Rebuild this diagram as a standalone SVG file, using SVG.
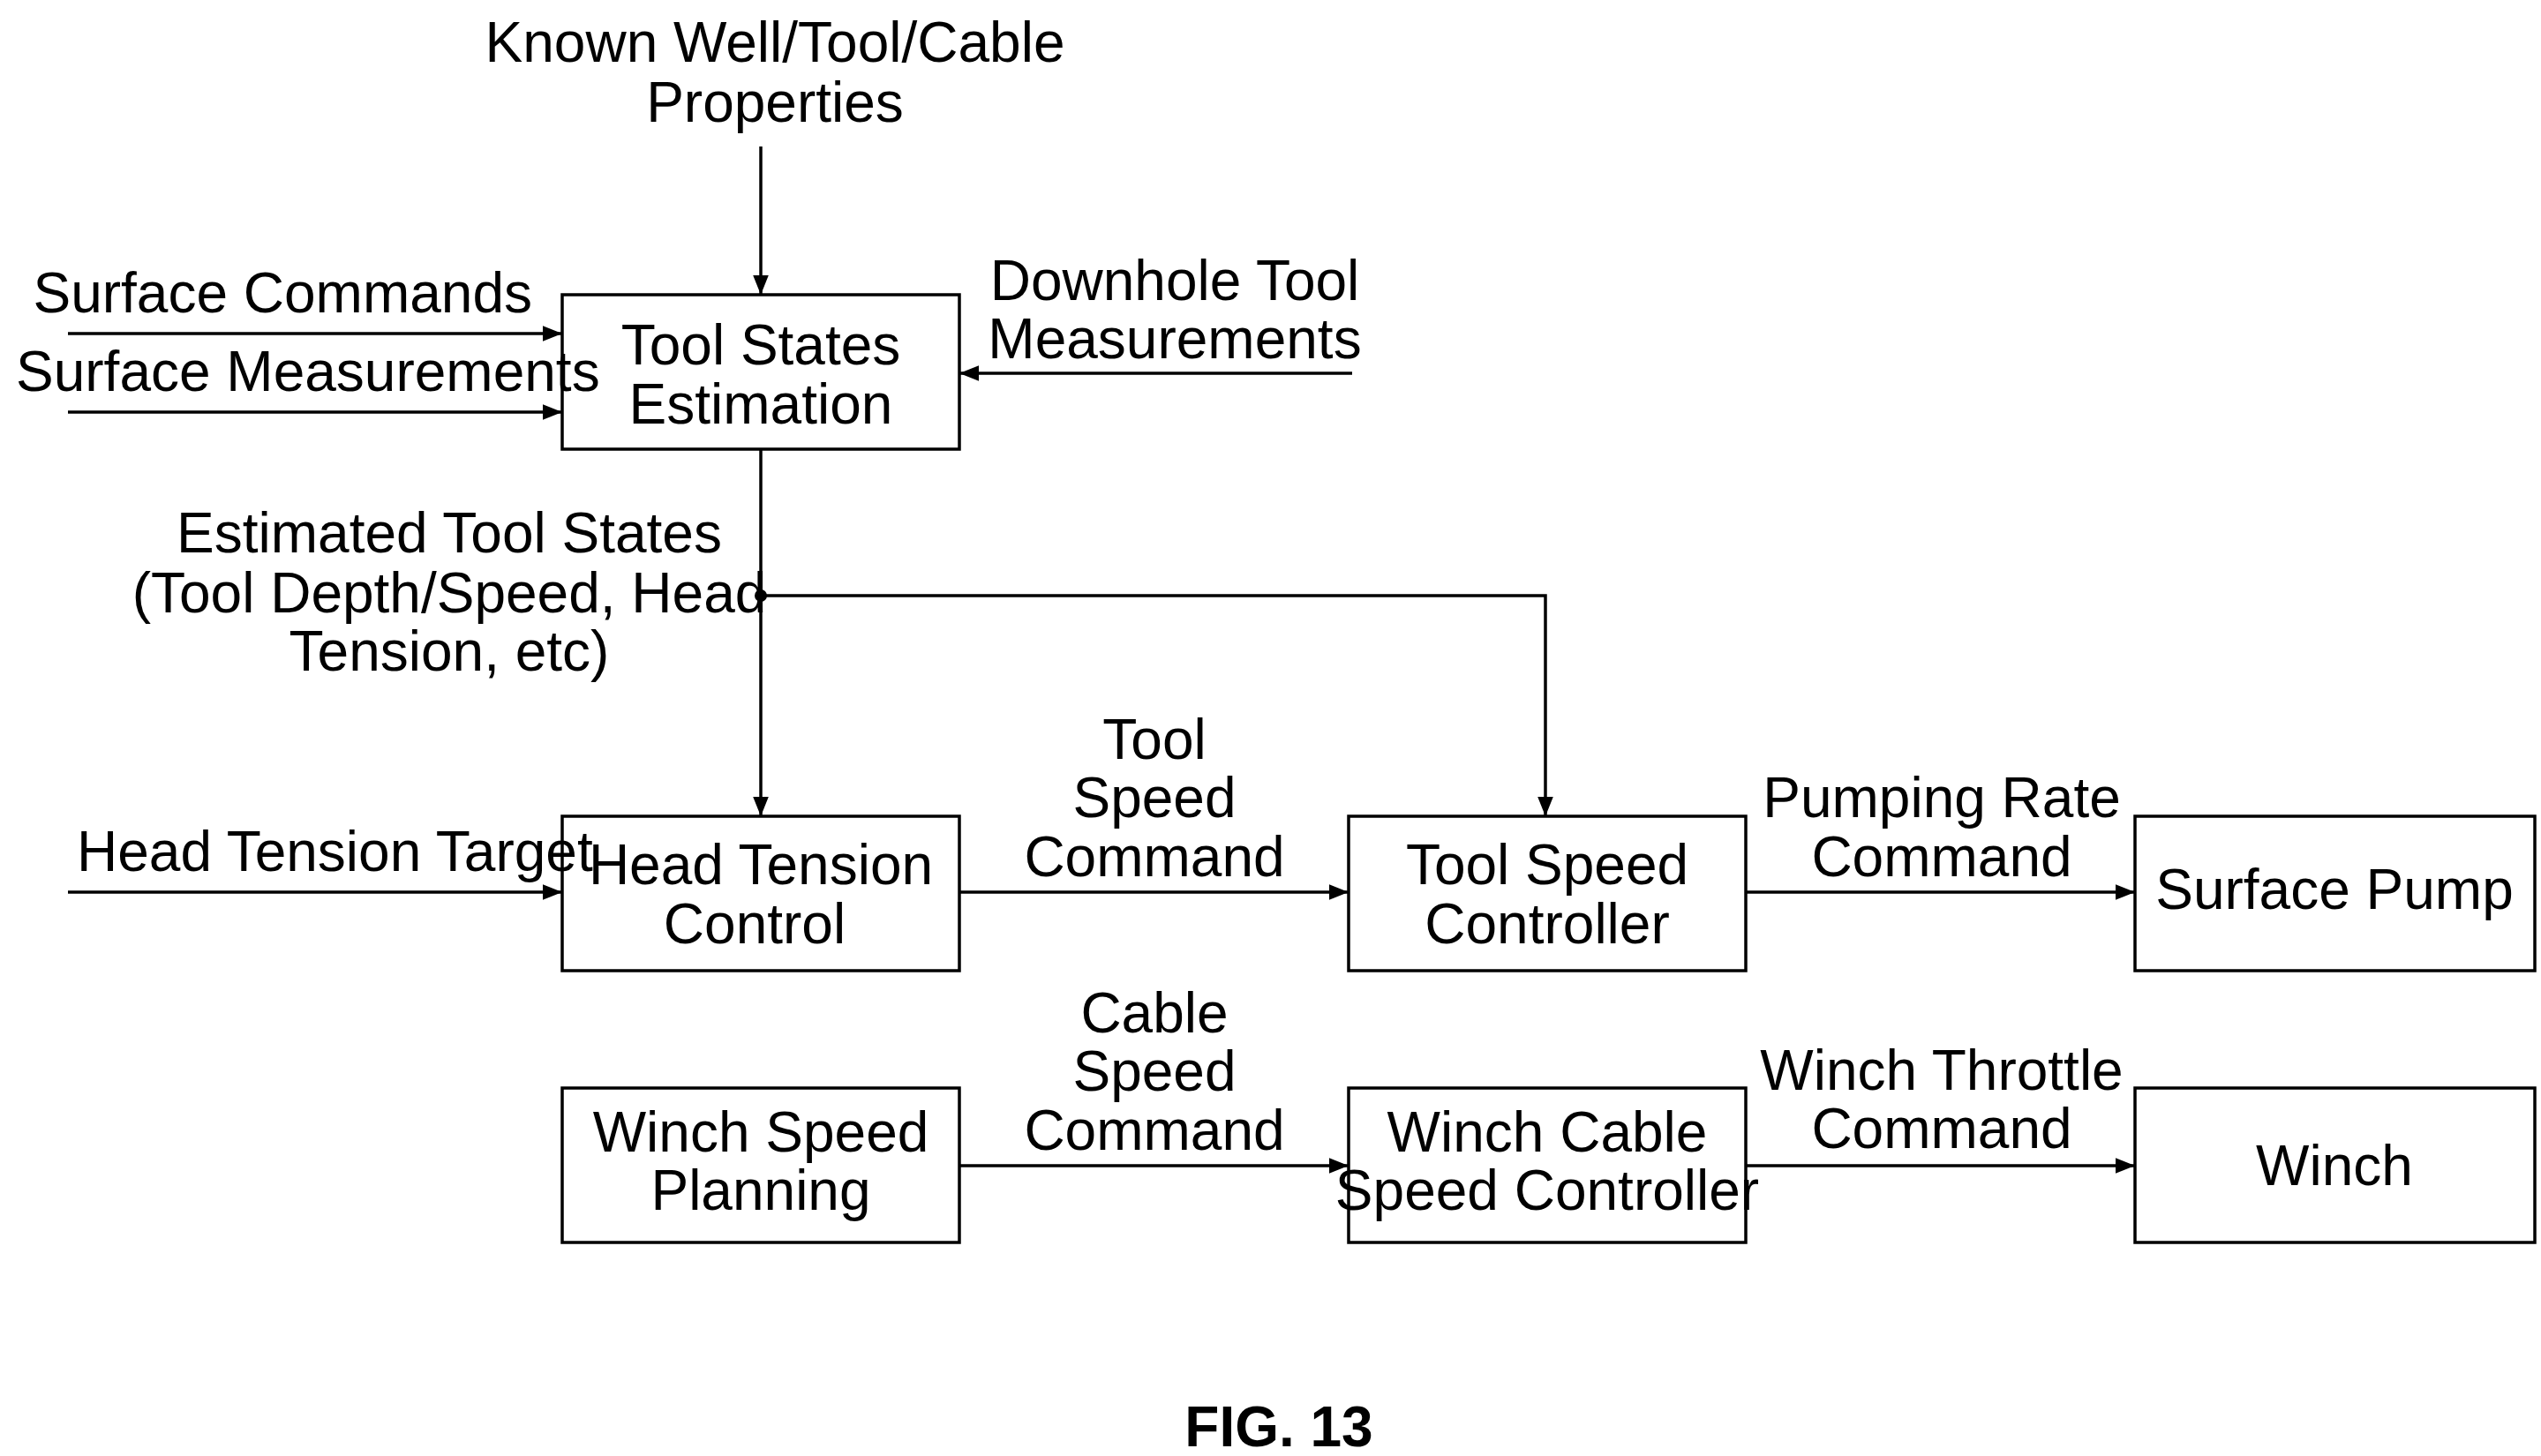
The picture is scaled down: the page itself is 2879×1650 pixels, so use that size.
<svg xmlns="http://www.w3.org/2000/svg" width="2879" height="1650" viewBox="0 0 2879 1650">
<defs>
<marker id="ah" viewBox="0 0 10 10" refX="10" refY="5" markerWidth="22" markerHeight="22" markerUnits="userSpaceOnUse" orient="auto"><path d="M0,1 L10,5 L0,9 Z" fill="#000"/></marker>
<style>
text{font-family:"Liberation Sans Narrow","Liberation Sans",Arial,sans-serif;font-size:64px;fill:#000}
.c{text-anchor:middle}
.b{fill:#fff;stroke:#000;stroke-width:3.5}
.l{fill:none;stroke:#000;stroke-width:3.5;marker-end:url(#ah)}
</style>
</defs>
<rect width="2879" height="1650" fill="#fff"/>
<g id="n1"><rect class="b" x="637" y="334" width="450" height="175"/><text class="c" x="862" y="413">Tool States</text><text class="c" x="862" y="480">Estimation</text></g>
<g id="n2"><rect class="b" x="637" y="925" width="450" height="175"/><text class="c" x="862" y="1002">Head Tension</text><text class="c" x="855" y="1069">Control</text></g>
<g id="n3"><rect class="b" x="1528" y="925" width="450" height="175"/><text class="c" x="1753" y="1002">Tool Speed</text><text class="c" x="1753" y="1069">Controller</text></g>
<g id="n4"><rect class="b" x="2419" y="925" width="453" height="175"/><text class="c" x="2645" y="1030">Surface Pump</text></g>
<g id="n5"><rect class="b" x="637" y="1233" width="450" height="175"/><text class="c" x="862" y="1305">Winch Speed</text><text class="c" x="862" y="1371">Planning</text></g>
<g id="n6"><rect class="b" x="1528" y="1233" width="450" height="175"/><text class="c" x="1753" y="1305">Winch Cable</text><text class="c" x="1753" y="1371">Speed Controller</text></g>
<g id="n7"><rect class="b" x="2419" y="1233" width="453" height="175"/><text class="c" x="2645" y="1343">Winch</text></g>
<g id="connectors">
<path class="l" d="M862,166 V334"/>
<path class="l" d="M77,378 H637"/>
<path class="l" d="M77,467 H637"/>
<path class="l" d="M1532,423 H1087"/>
<path class="l" d="M862,509 V925"/>
<path class="l" d="M862,675 H1751 V925"/>
<circle cx="862" cy="675" r="7" fill="#000"/>
<path class="l" d="M77,1011 H637"/>
<path class="l" d="M1087,1011 H1528"/>
<path class="l" d="M1978,1011 H2419"/>
<path class="l" d="M1087,1321 H1528"/>
<path class="l" d="M1978,1321 H2419"/>
</g>
<g id="labels">
<text class="c" x="878" y="70">Known Well/Tool/Cable</text><text class="c" x="878" y="138">Properties</text>
<text x="603" y="354" text-anchor="end">Surface Commands</text>
<text x="18" y="443">Surface Measurements</text>
<text class="c" x="1331" y="340">Downhole Tool</text><text class="c" x="1331" y="406">Measurements</text>
<text class="c" x="509" y="626">Estimated Tool States</text><text class="c" x="509" y="694">(Tool Depth/Speed, Head</text><text class="c" x="509" y="760">Tension, etc)</text>
<text x="87" y="987">Head Tension Target</text>
<text class="c" x="1308" y="860">Tool</text><text class="c" x="1308" y="926">Speed</text><text class="c" x="1308" y="993">Command</text>
<text class="c" x="2200" y="926">Pumping Rate</text><text class="c" x="2200" y="993">Command</text>
<text class="c" x="1308" y="1170">Cable</text><text class="c" x="1308" y="1236">Speed</text><text class="c" x="1308" y="1303">Command</text>
<text class="c" x="2200" y="1235">Winch Throttle</text><text class="c" x="2200" y="1301">Command</text>
<text class="c" x="1449" y="1639" font-weight="bold">FIG. 13</text>
</g>
</svg>
